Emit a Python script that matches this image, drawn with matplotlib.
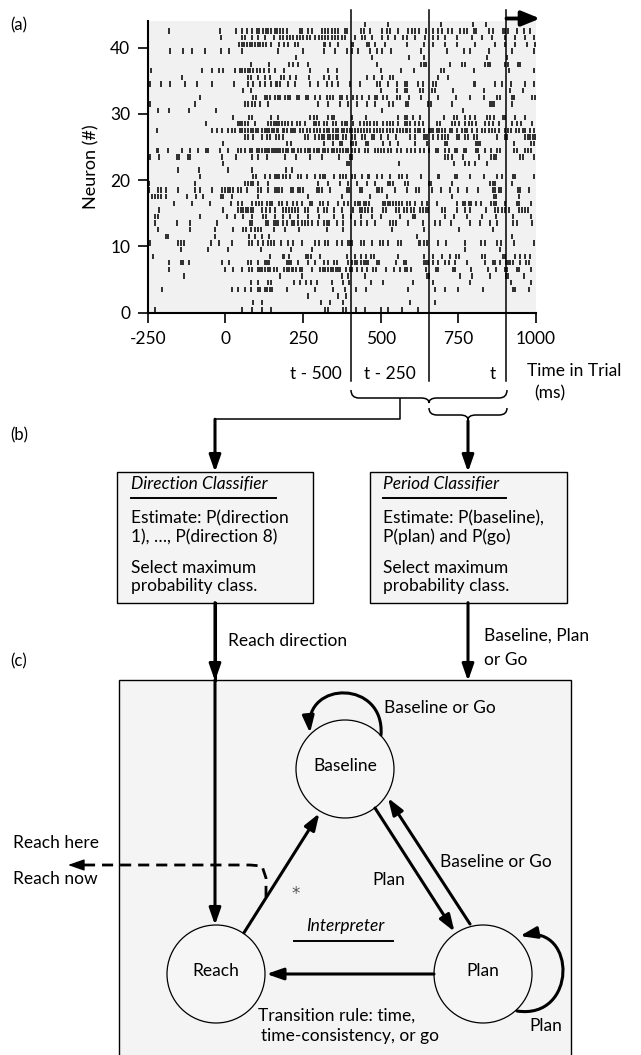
import matplotlib
matplotlib.use("Agg")
import matplotlib.pyplot as plt
from matplotlib.patches import FancyArrowPatch, ArrowStyle, Circle, Rectangle, PathPatch
from matplotlib.path import Path

plt.rcParams['font.family'] = ['Lato', 'DejaVu Sans']

# ---------------- data: spike times (ms) per neuron, neuron 0 at bottom ----------------
spikes = [
    [-227, 52, 87, 117, 147, 321, 330, 380, 388, 420, 448, 502, 525, 568, 620],
    [90, 117, 308, 337, 380, 595, 674],
    [267, 362, 388],
    [-203, 20, 42, 63, 83, 104, 112, 126, 134, 144, 151, 198, 287, 348, 386, 420, 452, 588, 676, 708, 749, 828, 925, 933, 979],
    [83, 104, 138, 147, 222, 241, 259, 275, 294, 343, 380, 398, 469, 506, 603, 667, 788, 921, 985],
    [-132, 176, 248, 375, 394, 448, 649, 656, 756, 794, 853, 903, 910, 960],
    [-182, -1, 26, 55, 76, 87, 104, 112, 119, 128, 136, 144, 158, 165, 190, 198, 205, 214, 219, 227, 241, 248, 280, 305,
     313, 321, 332, 340, 348, 355, 362, 369, 388, 402, 407, 423, 441, 455, 474, 484, 517, 544, 563, 579, 584, 598, 646,
     678, 686, 732, 740, 792, 845, 871, 901, 907, 939, 946, 985],
    [-182, -143, -135, -117, -10, 12, 74, 83, 106, 126, 133, 141, 198, 205, 212, 235, 267, 287, 319, 332, 351, 359, 394,
     407, 416, 423, 437, 445, 452, 459, 488, 495, 549, 574, 582, 638, 646, 652, 667, 686, 706, 719, 740, 778, 835, 860,
     869, 885, 903, 910, 917, 925, 950, 968, 976],
    [-232, 144, 184, 190, 205, 259, 267, 275, 305, 391, 416, 437, 452, 469, 477, 557, 641, 670, 699, 724, 742, 753, 826,
     835, 893, 899, 931, 950, 966, 982],
    [-143, -55, 10, 115, 212, 278, 770, 885],
    [-243, -151, -143, -132, -46, -22, 22, 76, 85, 104, 122, 136, 147, 158, 179, 201, 219, 248, 287, 302, 321, 330, 359,
     375, 394, 402, 407, 437, 445, 471, 498, 506, 525, 555, 566, 622, 627, 641, 649, 686, 710, 770, 824, 837, 874, 888,
     928, 992],
    [-192, -184, -33, 76, 95, 117, 141, 617, 923],
    [-218, -114, -33, 26, 58, 65, 83, 95, 104, 115, 158, 192, 237, 326, 380, 536, 638, 753, 860],
    [-227, -157, -114, -28, 79, 87, 130, 138, 158, 163, 169, 184, 198, 214, 222, 233, 248, 257, 265, 278, 297, 319, 326,
     334, 359, 380, 416, 437, 455, 482, 531, 541, 549, 588, 635, 674, 692, 727, 788, 821, 853, 874, 925, 939, 987],
    [-225, -218, -82, 4, 31, 58, 85, 122, 130, 160, 184, 208, 235, 267, 300, 351, 380, 405, 437, 471, 502, 563, 603, 611,
     706, 735, 778, 826, 871, 925, 985],
    [-214, -7, 42, 50, 58, 65, 74, 83, 90, 117, 130, 144, 160, 184, 194, 205, 214, 224, 235, 257, 267, 297, 319, 326,
     351, 375, 412, 434, 441, 450, 459, 471, 509, 517, 549, 560, 574, 584, 598, 606, 627, 635, 646, 652, 699, 706, 745,
     772, 788, 839, 867, 878, 890, 899, 912, 944, 955, 966, 974],
    [-164, -106, -49, 18, 42, 52, 87, 98, 108, 117, 133, 144, 151, 173, 181, 198, 219, 230, 246, 273, 280, 305, 313, 332,
     362, 383, 394, 418, 426, 434, 445, 452, 463, 506, 514, 523, 531, 541, 549, 560, 568, 584, 595, 609, 633, 649, 681,
     745, 764, 770, 785, 792, 807, 824, 856, 864, 871, 899, 939, 944, 985],
    [-235, -227, -218, -207, -192, -125, -96, -71, -14, -7, 20, 104, 267, 375, 466, 520, 729, 864, 871, 944],
    [-246, -218, -207, -192, -154, -98, -82, -44, -10, -1, 7, 16, 25, 42, 50, 69, 106, 115, 138, 160, 165, 173, 181, 212,
     219, 233, 241, 251, 294, 302, 310, 337, 391, 398, 434, 441, 488, 495, 504, 547, 584, 613, 624, 665, 695, 724, 749,
     778, 813, 860, 869, 880, 888, 942, 950, 979],
    [-250, -246, -98, 63, 72, 83, 90, 106, 136, 297, 330, 369, 396, 423, 455, 482, 525, 531, 541, 579, 588, 656, 663, 729,
     853, 860, 867, 923],
    [-82, 90, 98, 126, 144, 160, 165, 173, 187, 194, 208, 235, 244, 262, 287, 305, 313, 321, 351, 369, 380, 388, 409, 418,
     441, 459, 463, 488, 504, 531, 560, 568, 584, 631, 684, 689, 740, 745, 788, 831, 874, 890, 925, 931, 992],
    [-154, -85, 10, 87, 194, 216],
    [-7, 391, 398, 560, 735, 772, 785, 805, 842],
    [-243, -214, -157, -149, -121, -114, -10, 33, 85, 104, 133, 192, 227, 273, 310, 366, 402, 409, 708, 716, 729, 764,
     817, 856, 864, 871, 950, 957, 992],
    [-250, -221, -216, -186, -141, -114, -87, -63, -57, -17, 10, 42, 50, 63, 79, 85, 101, 109, 117, 126, 133, 141, 149,
     158, 162, 169, 176, 184, 194, 203, 214, 222, 233, 244, 257, 265, 273, 284, 294, 302, 313, 321, 332, 343, 351, 359,
     369, 380, 388, 396, 407, 418, 431, 450, 459, 482, 491, 502, 512, 523, 534, 552, 566, 584, 598, 611, 627, 641, 656,
     678, 686, 706, 721, 738, 745, 767, 774, 807, 813, 837, 856, 874, 885, 928, 939, 963, 974, 985],
    [-7, 198, 212, 319, 348, 369, 377, 405, 412, 420, 452, 459, 506, 531, 557, 609, 649, 706, 713, 807, 813, 821, 928,
     985, 992],
    [63, 72, 90, 117, 133, 144, 162, 173, 187, 257, 265, 289, 300, 310, 319, 330, 337, 345, 355, 364, 380, 388, 409, 418,
     439, 448, 471, 480, 502, 525, 549, 595, 609, 638, 643, 649, 670, 684, 697, 708, 716, 745, 753, 772, 781, 802, 810,
     874, 899, 907, 966, 974, 982, 989, 996],
    [-221, -44, -28, -10, 7, 20, 31, 47, 55, 63, 72, 83, 90, 98, 106, 117, 126, 133, 141, 149, 158, 165, 169, 184, 190,
     198, 212, 219, 224, 241, 251, 262, 273, 284, 294, 305, 319, 326, 334, 345, 355, 364, 375, 383, 391, 402, 409, 418,
     428, 437, 445, 455, 466, 477, 488, 498, 509, 520, 531, 541, 552, 563, 573, 581, 584, 595, 611, 620, 627, 638, 656,
     663, 670, 681, 689, 697, 708, 724, 729, 745, 762, 770, 778, 794, 810, 826, 835, 848, 858, 869, 882, 899, 910, 921,
     936, 944, 957, 966, 982, 992],
    [-63, 40, 47, 55, 63, 74, 95, 138, 147, 155, 162, 165, 173, 181, 192, 203, 214, 230, 241, 257, 284, 291, 302, 316,
     326, 348, 355, 375, 386, 391, 412, 434, 445, 455, 466, 477, 488, 509, 520, 531, 541, 557, 577, 584, 595, 611, 622,
     635, 681, 692, 729, 740, 753, 772, 783, 794, 807, 835, 848, 860, 882, 923, 939, 953, 987],
    [26, 76, 85, 147, 171, 273, 284, 294, 332, 343, 351, 407, 452, 557, 579, 584, 603, 627, 703, 735, 745, 772, 788, 805,
     842, 853, 864, 893, 899, 933, 963],
    [-216, -182, -117, -31, 504, 764],
    [-250, -243, -98, 63, 74, 85, 95, 112, 138, 297, 330, 369, 396, 423, 455, 482, 527, 541, 582, 588, 652, 663, 729, 853,
     858, 864, 923],
    [-250, -82, 90, 99, 126, 134, 144, 160, 168, 176, 192, 203, 208, 230, 237, 259, 267, 289, 305, 326, 337, 345, 369,
     377, 391, 412, 423, 439, 461, 482, 488, 509, 520, 552, 563, 590, 631, 686, 742, 788, 831, 874, 885, 923, 928, 987,
     996],
    [58, 83, 502, 552, 579, 584, 627, 635, 665, 674, 732, 831, 917, 957],
    [-243, -207, -178, -130, -92, -44, 29, 74, 90, 112, 126, 147, 162, 165, 176, 201, 224, 273, 297, 326, 343, 364, 402,
     434, 488, 498, 525, 552, 579, 584, 620, 635, 670, 678, 799, 805, 869, 890, 921, 963, 992],
    [-141, 74, 83, 104, 126, 144, 179, 190, 208, 227, 270, 319, 334, 359, 455, 477, 504, 531, 541, 686, 716],
    [-238, -76, -42, -21, -7, 31, 47, 55, 63, 72, 79, 90, 101, 112, 124, 141, 160, 190, 273, 332, 359, 502, 566, 606,
     695, 703, 802, 912, 992],
    [83, 141, 206, 219, 235, 267, 488, 631, 638, 646, 724, 762, 770, 837, 845, 853, 901, 910, 942, 950],
    [227, 471, 590, 639, 842, 907],
    [-178, -135, -109, -66, -14, 12, 55, 169, 251, 316, 353, 391, 409, 428, 466, 487, 504, 534, 631, 713, 767, 788, 850,
     923, 992],
    [44, 53, 61, 70, 78, 87, 95, 104, 113, 121, 130, 147, 173, 190, 201, 224, 233, 316, 321, 337, 364, 407, 412, 455, 461,
     482, 514, 584, 641, 667, 706, 745, 805, 867, 901, 933, 971, 996],
    [-14, 55, 63, 85, 104, 126, 155, 176, 187, 198, 208, 219, 230, 241, 251, 262, 273, 289, 300, 310, 321, 332, 343, 353,
     364, 375, 386, 416, 439, 450, 471, 504, 525, 547, 573, 584, 611, 643, 670, 686, 708, 745, 794, 826, 858, 901, 933,
     966, 992],
    [-182, -18, 33, 52, 70, 85, 101, 108, 122, 130, 138, 147, 160, 165, 176, 187, 198, 240, 248, 267, 278, 310, 321, 332,
     343, 353, 364, 386, 391, 437, 445, 466, 504, 520, 531, 557, 588, 600, 611, 624, 646, 670, 686, 697, 716, 729, 756,
     767, 778, 799, 807, 848, 860, 893, 901, 910, 939, 960, 982],
    [450, 525, 695, 797, 838],
]
neuron_rows = [i + 0.5 for i in range(len(spikes))]
window_edges = [405, 655, 905]           # t-500, t-250, t (ms)
window_labels = ['t - 500', 't - 250', 't']
xticks = [-250, 0, 250, 500, 750, 1000]
yticks = [0, 10, 20, 30, 40]

W, H = 641, 1055
fig = plt.figure(figsize=(W / 100, H / 100), dpi=100)

# ---------------- (a) raster ----------------
L, R, T, B = 147.7, 536.0, 20.5, 312.5
ax = fig.add_axes([L / W, 1 - B / H, (R - L) / W, (B - T) / H])
ax.set_facecolor('#f1f1f1')
ax.eventplot(spikes, lineoffsets=neuron_rows, linelengths=0.8, linewidths=1.4, colors='#2e2e2e')
ax.set_xlim(-250, 1000)
ax.set_ylim(0, 44.1)
ax.set_xticks(xticks)
ax.set_xticklabels([str(v) for v in xticks])
ax.set_yticks(yticks)
for s in ['top', 'right']:
    ax.spines[s].set_visible(False)
for s in ['left', 'bottom']:
    ax.spines[s].set_linewidth(1.5)
ax.tick_params(direction='out', length=7.5, width=1.2, labelsize=12.5)
ax.tick_params(axis='x', pad=6)
ax.tick_params(axis='y', pad=5)
ax.set_ylabel('Neuron (#)', fontsize=13, labelpad=8)
for xe in window_edges:
    ax.plot([xe, xe], [45.7, -10.3], color='black', lw=1.1, clip_on=False, zorder=5)
ax.add_patch(FancyArrowPatch((window_edges[-1], 44.4), (1013, 44.4),
                             arrowstyle=ArrowStyle('-|>', head_length=1.1, head_width=0.45),
                             mutation_scale=10, lw=2.8, color='black', shrinkA=0, shrinkB=0,
                             clip_on=False, zorder=6))

# ---------------- overlay in pixel coordinates ----------------
ov = fig.add_axes([0, 0, 1, 1])
ov.set_xlim(0, W)
ov.set_ylim(H, 0)
ov.axis('off')
ov.patch.set_alpha(0)

FS = 12.5


def txt(x, y, s, ha='left', va='center', fs=FS, style='normal', **kw):
    ov.text(x, y, s, ha=ha, va=va, fontsize=fs, style=style, **kw)


def arrow(p0, p1, lw=2.2, hl=1.0, hw=0.35):
    ov.add_patch(FancyArrowPatch(p0, p1, arrowstyle=ArrowStyle('-|>', head_length=hl, head_width=hw),
                                 mutation_scale=10, lw=lw, color='black', shrinkA=0, shrinkB=0, zorder=5))


def curved_arrow(pts, lw=2.2):
    path = Path(pts, [Path.MOVETO, Path.CURVE4, Path.CURVE4, Path.CURVE4])
    ov.add_patch(FancyArrowPatch(path=path, arrowstyle=ArrowStyle('-|>', head_length=1.0, head_width=0.35),
                                 mutation_scale=10, lw=lw, color='black', zorder=5))


def brace(x0, x1, xm, y_end, y_mid, y_tip, q=8):
    verts = [(x0, y_end), (x0, y_mid), (x0 + q, y_mid), (xm - q, y_mid), (xm, y_mid), (xm, y_tip),
             (xm, y_mid), (xm + q, y_mid), (x1 - q, y_mid), (x1, y_mid), (x1, y_end)]
    codes = [Path.MOVETO, Path.CURVE3, Path.CURVE3, Path.LINETO, Path.CURVE3, Path.CURVE3,
             Path.CURVE3, Path.CURVE3, Path.LINETO, Path.CURVE3, Path.CURVE3]
    ov.add_patch(PathPatch(Path(verts, codes), fill=False, lw=1.1, color='black'))


# panel letters
txt(10, 25, '(a)', fs=12)
txt(10, 435, '(b)', fs=12)
txt(10, 661, '(c)', fs=12)

# time-window labels
txt(342, 374, window_labels[0], ha='right')
txt(390, 374, window_labels[1], ha='center')
txt(496, 374, window_labels[2], ha='right')
txt(527, 371, 'Time in Trial')
txt(534, 393, '(ms)')

# braces
brace(351, 507, 429, 390, 398, 403)
brace(429, 507, 468, 408, 415, 420)

# connector to direction classifier
ov.plot([400, 400, 215], [399, 419.3, 419.3], color='black', lw=1.1)
arrow((215, 419.3), (215, 472))
arrow((468, 421), (468, 472))

# classifier boxes
for (x0, x1) in [(117.3, 313), (370, 567)]:
    ov.add_patch(Rectangle((x0, 471.7), x1 - x0, 131, fc='#f4f4f4', ec='black', lw=1.0, zorder=2))

txt(131, 484, 'Direction Classifier', style='italic')
ov.plot([131, 276], [497.7, 497.7], color='black', lw=1.4)
txt(131, 518, 'Estimate: P(direction')
txt(131, 537, '1), \u2026, P(direction 8)')
txt(131, 567.7, 'Select maximum')
txt(131, 586, 'probability class.')

txt(383, 484, 'Period Classifier', style='italic')
ov.plot([383, 506], [497.7, 497.7], color='black', lw=1.4)
txt(383, 518, 'Estimate: P(baseline),')
txt(383, 537, 'P(plan) and P(go)')
txt(383, 567.7, 'Select maximum')
txt(383, 586, 'probability class.')

# ---------------- (c) interpreter ----------------
ov.add_patch(Rectangle((119, 680), 452, 400, fc='#f4f4f4', ec='black', lw=1.0, zorder=1))

ov.plot([215, 215], [602.7, 680], color='black', lw=2.2)
arrow((215, 602.7), (215, 681))
arrow((215, 680), (215, 925))
arrow((468, 602.7), (468, 681))
txt(228, 641, 'Reach direction')
txt(484, 636, 'Baseline, Plan')
txt(484, 660, 'or Go')

states = {'Baseline': (345, 769), 'Reach': (216, 974), 'Plan': (483, 974)}
for name, (cx, cy) in states.items():
    ov.add_patch(Circle((cx, cy), 49, fc='#f6f6f6', ec='black', lw=0.9, zorder=3))
    txt(cx, cy - 3, name, ha='center', zorder=6)

arrow((375, 808), (454.5, 931.7))
arrow((470, 924), (388, 798))
arrow((244, 932.7), (319.4, 813.3))
arrow((434, 974), (266.5, 974))
curved_arrow([(381, 735), (385, 680), (305, 680), (310, 733)])
curved_arrow([(517, 1011), (577, 1020), (577, 925), (520, 936)])

txt(384, 708, 'Baseline or Go')
txt(440, 862, 'Baseline or Go')
txt(372, 880, 'Plan')
txt(529, 1026, 'Plan')
txt(296, 894, '*', ha='center', fs=12, color='#555555', family='DejaVu Sans')
txt(345, 926, 'Interpreter', ha='center', style='italic')
ov.plot([294, 393], [941, 941], color='black', lw=1.4)
txt(258, 1016, 'Transition rule: time,')
txt(261, 1036, 'time-consistency, or go')

# dashed "reach" output
ov.plot([266, 266, 262, 250, 82], [897, 878, 866, 865, 865], color='black', lw=2.0,
        linestyle=(0, (4, 2.5)), zorder=6)
arrow((84, 865), (68, 865), lw=1.0)
txt(13, 843, 'Reach here')
txt(13, 879, 'Reach now')

fig.savefig('out.png', dpi=100)
